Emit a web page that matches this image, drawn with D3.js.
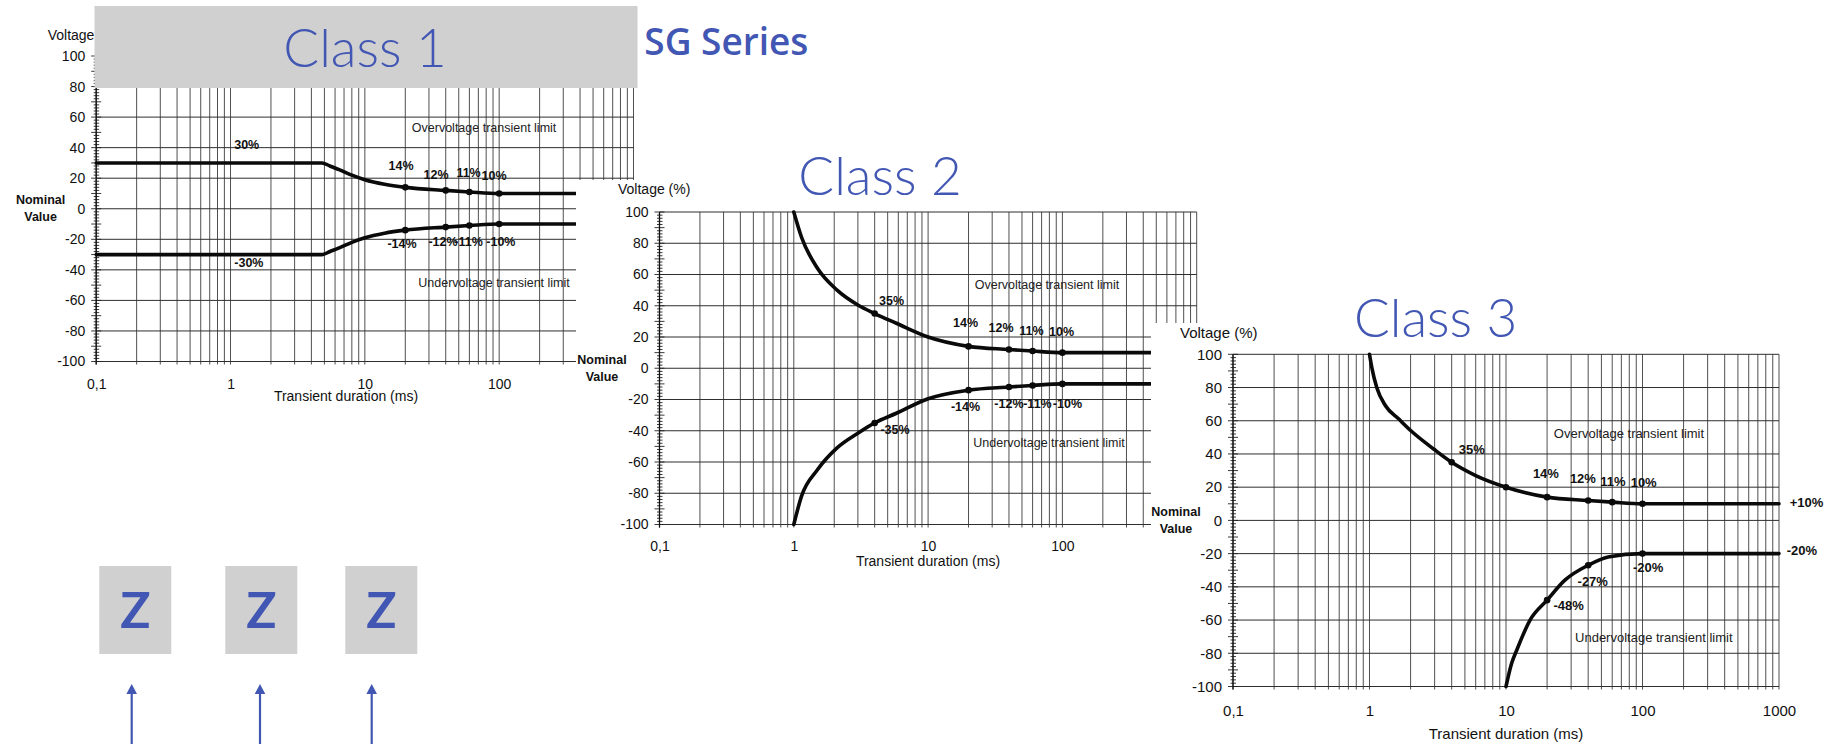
<!DOCTYPE html>
<html>
<head>
<meta charset="utf-8">
<script src="https://cdn.jsdelivr.net/npm/d3@7"></script>
<style>
  body { margin: 0; background: #fff; }
  svg { display: block; }
</style>
</head>
<body>
<svg width="1834" height="744"></svg>
<script>
// ---- data ----
const xTicks = [0.1, 1, 10, 100, 1000];
const xTickLabels = ['0,1', '1', '10', '100', '1000'];
const yTicks = [-100, -80, -60, -40, -20, 0, 20, 40, 60, 80, 100];
const limitNames = ['Overvoltage transient limit', 'Undervoltage transient limit'];
const boxLetters = ['Z', 'Z', 'Z'];

// class 1: [ms, %]
const class1Upper = [[0.1, 30], [4.8, 30], [5.5, 28], [6.5, 25.5], [8, 22], [10, 19], [14, 16], [20, 14], [40, 12], [60, 11], [100, 10], [1000, 10]];
const class1Lower = [[0.1, -30], [4.8, -30], [5.5, -28], [6.5, -25.5], [8, -22], [10, -19], [14, -16], [20, -14], [40, -12], [60, -11], [100, -10], [1000, -10]];
const class1Dots = [[20, 14], [40, 12], [60, 11], [100, 10], [20, -14], [40, -12], [60, -11], [100, -10]];
const class1Labels = [['30%', 1.32, 42], ['14%', 18.6, 28.5], ['12%', 33.9, 22.4], ['11%', 59.2, 23.7], ['10%', 91.6, 22],
  ['-14%', 18.9, -22.8], ['-12%', 38.2, -21.5], ['-11%', 59.2, -21.5], ['-10%', 103, -21.5], ['-30%', 1.37, -35.3]];
const class1Limits = [[77.2, 53.2], [91.6, -48.4]];

// class 2
const class2Upper = [[1, 100], [1.14, 84], [1.5, 64], [2.1, 50], [3, 40.5], [4, 35], [5.8, 28.8], [10, 20], [20, 14], [40, 12], [60, 11], [100, 10], [1000, 10]];
const class2Lower = [[1, -100], [1.14, -82], [1.5, -65], [2.1, -51], [3, -41.6], [4, -35], [5.8, -28.8], [10, -19.5], [20, -14], [40, -12], [60, -11], [100, -10], [1000, -10]];
const class2Dots = [[4, 35], [20, 14], [40, 12], [60, 11], [100, 10], [4, -35], [20, -14], [40, -12], [60, -11], [100, -10]];
const class2Labels = [['35%', 5.35, 43.1], ['14%', 19, 29], ['12%', 34.9, 25.8], ['11%', 58.9, 24.1], ['10%', 98.6, 23.4],
  ['-14%', 19, -24.6], ['-12%', 40, -22.8], ['-11%', 65.2, -22.8], ['-10%', 109, -22.8], ['-35%', 5.67, -39.5]];
const class2Limits = [[76.8, 53.3], [79.5, -47.6]];

// class 3
const class3Upper = [[1, 100], [1.04, 92], [1.13, 80], [1.31, 69], [1.64, 61], [2.04, 53.5], [2.95, 43], [4, 35], [6, 27], [10, 20], [20, 14], [40, 12], [60, 11], [100, 10], [1000, 10]];
const class3Lower = [[10, -100], [11, -86], [12, -78], [15, -60], [20, -48], [27, -36], [40, -27], [56, -22], [100, -20], [1000, -20]];
const class3Dots = [[4, 35], [10, 20], [20, 14], [40, 12], [60, 11], [100, 10], [20, -48], [40, -27], [100, -20]];
const class3Labels = [['35%', 5.62, 42.5], ['14%', 19.6, 28.4], ['12%', 36.6, 25.1], ['11%', 60.8, 23.6], ['10%', 102, 23],
  ['+10%', 1590, 10.6], ['-20%', 1473, -18], ['-20%', 110, -28.1], ['-27%', 43.2, -36.5], ['-48%', 28.8, -51.1]];
const class3Limits = [[79.6, 52.5], [121, -70.2]];

// ---- layout ----
const svg = d3.select('svg');
const blue = '#4257b3';
const chartFont = '"Liberation Sans", Arial, sans-serif';

const gridX = [];
[0.1, 1, 10, 100].forEach(dec => d3.range(1, 10).forEach(k => gridX.push(k * dec)));
gridX.push(1000);

const charts = [
  { upper: class1Upper, lower: class1Lower, dots: class1Dots, labels: class1Labels, limits: class1Limits,
    x0: 96.2, x1: 633.5, yTop: 56, yBot: 361.5, paper: null,
    font: 14, noteFont: 12.5, limitFont: 12.5, xPad: 18, volt: [47.7, 35], nominal: 40.6, durX: 346, durY: 396.5 },
  { upper: class2Upper, lower: class2Lower, dots: class2Dots, labels: class2Labels, limits: class2Limits,
    x0: 659.5, x1: 1196.7, yTop: 212, yBot: 524.5, paper: [576, 180, 632, 395],
    font: 14, noteFont: 12.5, limitFont: 12.5, xPad: 17, volt: [618, 189], nominal: 602, durX: 928, durY: 561.5 },
  { upper: class3Upper, lower: class3Lower, dots: class3Dots, labels: class3Labels, limits: class3Limits,
    x0: 1233, x1: 1779, yTop: 354.3, yBot: 686.5, paper: [1151, 323, 683, 421],
    font: 15, noteFont: 13, limitFont: 13, xPad: 18.5, volt: [1180, 333], nominal: 1176, durX: 1506, durY: 734 }
];

function drawChart(c) {
  const g = svg.append('g').attr('font-family', chartFont);
  if (c.paper) {
    g.append('rect')
      .attr('x', c.paper[0]).attr('y', c.paper[1])
      .attr('width', c.paper[2]).attr('height', c.paper[3])
      .attr('fill', '#fff');
  }
  const x = d3.scaleLog().domain([0.1, 1000]).range([c.x0, c.x1]);
  const y = d3.scaleLinear().domain([-100, 100]).range([c.yBot, c.yTop]);

  // grid
  g.append('g').selectAll('line').data(gridX).join('line')
    .attr('x1', d => x(d)).attr('x2', d => x(d))
    .attr('y1', c.yTop).attr('y2', c.yBot + 3)
    .attr('stroke', '#3c3c3c').attr('stroke-width', 0.9);
  g.append('g').selectAll('line').data(yTicks).join('line')
    .attr('x1', c.x0).attr('x2', c.x1)
    .attr('y1', d => y(d)).attr('y2', d => y(d))
    .attr('stroke', '#2e2e2e').attr('stroke-width', 1);

  // minor ticks crossing the y axis
  g.append('g').selectAll('line').data(d3.range(-100, 101, 2)).join('line')
    .attr('x1', d => c.x0 - (d % 10 === 0 ? 5 : 2.5))
    .attr('x2', d => c.x0 + (d % 10 === 0 ? 5 : 3))
    .attr('y1', d => y(d)).attr('y2', d => y(d))
    .attr('stroke', '#222').attr('stroke-width', 0.9);
  g.append('line')
    .attr('x1', c.x0).attr('x2', c.x0).attr('y1', c.yTop).attr('y2', c.yBot + 3)
    .attr('stroke', '#111').attr('stroke-width', 1.3);

  // axes labels
  const ya = g.append('g').attr('transform', `translate(${c.x0},0)`)
    .call(d3.axisLeft(y).tickValues(yTicks).tickSize(0).tickPadding(11).tickFormat(d => String(d)));
  ya.select('.domain').remove();
  ya.attr('font-family', chartFont).attr('font-size', c.font).selectAll('text').attr('fill', '#111');

  const xa = g.append('g').attr('transform', `translate(0,${c.yBot})`)
    .call(d3.axisBottom(x).tickValues(xTicks).tickSize(0).tickPadding(c.xPad)
      .tickFormat((d, i) => xTickLabels[i]));
  xa.select('.domain').remove();
  xa.attr('font-family', chartFont).attr('font-size', c.font).selectAll('text').attr('fill', '#111');

  g.append('text').attr('x', c.durX).attr('y', c.durY).attr('dy', '0.35em')
    .attr('text-anchor', 'middle').attr('font-size', c.font).attr('fill', '#111')
    .text('Transient duration (ms)');
  g.append('text').attr('x', c.volt[0]).attr('y', c.volt[1]).attr('dy', '0.35em')
    .attr('font-size', c.font).attr('fill', '#111')
    .text('Voltage (%)');
  const nom = g.append('text').attr('text-anchor', 'middle')
    .attr('font-size', 12.5).attr('font-weight', 'bold').attr('fill', '#111');
  nom.append('tspan').attr('x', c.nominal).attr('y', y(0) - 9).attr('dy', '0.35em').text('Nominal');
  nom.append('tspan').attr('x', c.nominal).attr('y', y(0) + 8).attr('dy', '0.35em').text('Value');

  // limit curves
  const line = d3.line().x(d => x(d[0])).y(d => y(d[1])).curve(d3.curveMonotoneX);
  [c.upper, c.lower].forEach(s => {
    g.append('path').attr('d', line(s))
      .attr('fill', 'none').attr('stroke', '#0a0a0a')
      .attr('stroke-width', 3.6).attr('stroke-linecap', 'round').attr('stroke-linejoin', 'round');
  });
  g.append('g').selectAll('circle').data(c.dots).join('circle')
    .attr('cx', d => x(d[0])).attr('cy', d => y(d[1])).attr('r', 3.3).attr('fill', '#0a0a0a');

  // annotations
  g.append('g').selectAll('text').data(c.labels).join('text')
    .attr('x', d => x(d[1])).attr('y', d => y(d[2])).attr('dy', '0.35em')
    .attr('text-anchor', 'middle').attr('font-size', c.noteFont).attr('font-weight', 'bold')
    .attr('fill', '#111').text(d => d[0]);
  g.append('g').selectAll('text').data(c.limits).join('text')
    .attr('x', d => x(d[0])).attr('y', d => y(d[1])).attr('dy', '0.35em')
    .attr('text-anchor', 'middle').attr('font-size', c.limitFont)
    .attr('fill', '#222').text((d, i) => limitNames[i]);
}

// class 1 image, then the slide overlay on it
drawChart(charts[0]);
svg.append('rect').attr('x', 94.5).attr('y', 6).attr('width', 543).attr('height', 82).attr('fill', '#d0d0d0');
svg.append('text').attr('x', 644.3).attr('y', 55)
  .attr('font-family', '"Open Sans", Lato, sans-serif').attr('font-weight', 600).attr('font-size', 37)
  .attr('fill', blue).text('SG Series');

drawChart(charts[1]);
drawChart(charts[2]);

// slide titles
const titles = [['Class 1', 365, 67], ['Class 2', 880, 195], ['Class 3', 1435.6, 336.7]];
svg.append('g').selectAll('text').data(titles).join('text')
  .attr('x', d => d[1]).attr('y', d => d[2]).attr('text-anchor', 'middle')
  .attr('font-family', 'Lato, "Open Sans", sans-serif').attr('font-weight', 300).attr('font-size', 53)
  .attr('fill', blue).text(d => d[0]);

// Z boxes with arrows
const boxX = [99.3, 225.3, 345.3];
const arrowX = [131.7, 260, 371.7];
const boxes = svg.append('g');
boxes.selectAll('rect').data(boxLetters).join('rect')
  .attr('x', (d, i) => boxX[i]).attr('y', 566)
  .attr('width', 72).attr('height', 88).attr('fill', '#d0d0d0');
boxes.selectAll('text').data(boxLetters).join('text')
  .attr('x', (d, i) => boxX[i] + 36).attr('y', 610).attr('dy', '0.36em')
  .attr('text-anchor', 'middle').attr('font-family', 'Lato, "Open Sans", sans-serif')
  .attr('font-weight', 700).attr('font-size', 50).attr('fill', blue).text(d => d);
const arrows = svg.append('g').attr('fill', blue).attr('stroke', blue);
arrowX.forEach(ax => {
  arrows.append('line').attr('x1', ax).attr('x2', ax).attr('y1', 690).attr('y2', 744).attr('stroke-width', 2.2);
  arrows.append('path').attr('d', `M${ax},684 L${ax - 5.3},694 L${ax + 5.3},694 Z`).attr('stroke', 'none');
});
</script>
</body>
</html>
